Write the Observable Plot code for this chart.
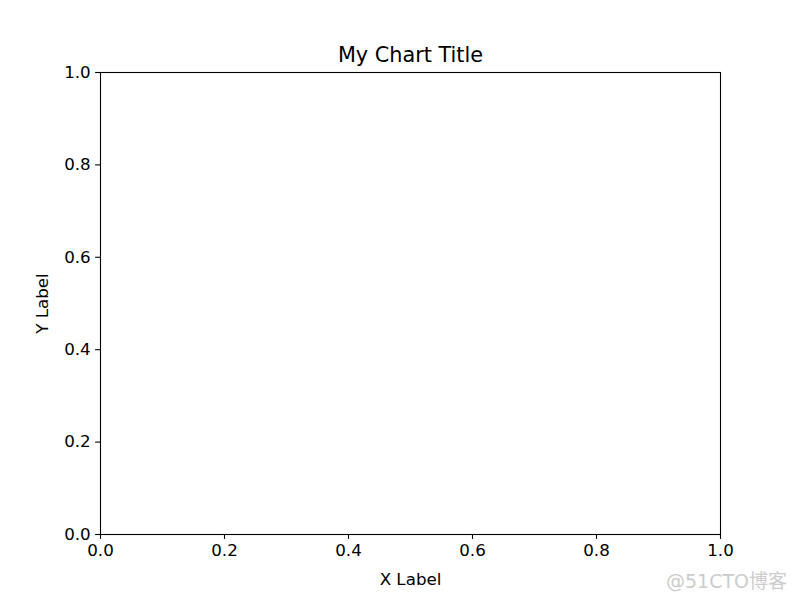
<!DOCTYPE html>
<html>
<head>
<meta charset="utf-8">
<script src="https://cdn.jsdelivr.net/npm/d3@7"></script>
<script src="https://cdn.jsdelivr.net/npm/@observablehq/plot@0.6"></script>
<style>
  html, body { margin: 0; padding: 0; background: white; }
  svg { display: block; }
</style>
</head>
<body>
<div id="chart"></div>
<script>
const xTicks = [0, 0.2, 0.4, 0.6, 0.8, 1.0];
const yTicks = [0, 0.2, 0.4, 0.6, 0.8, 1.0];
const titleText = ["My Chart Title"];
const xLabelText = ["X Label"];
const yLabelText = ["Y Label"];
const watermark = ["@51CTO博客"];

const chart = Plot.plot({
  width: 800,
  height: 600,
  marginLeft: 100,
  marginRight: 80,
  marginTop: 72,
  marginBottom: 66,
  style: { fontFamily: "DejaVu Sans", fontSize: "16.7px", color: "black", background: "white" },
  x: { domain: [0, 1] },
  y: { domain: [0, 1] },
  marks: [
    Plot.frame({ stroke: "black", strokeWidth: 1.1 }),
    Plot.axisX({ ticks: xTicks, tickFormat: d3.format(".1f"), tickSize: 4.9, tickPadding: 4.9, label: null, stroke: "black", strokeWidth: 1.1, fontSize: 16.7 }),
    Plot.axisY({ ticks: yTicks, tickFormat: d3.format(".1f"), tickSize: 4.9, tickPadding: 4.9, label: null, stroke: "black", strokeWidth: 1.1, fontSize: 16.7 }),
    Plot.text(titleText, { text: d => d, frameAnchor: "top", dy: -17, lineAnchor: "middle", fontSize: 20.8, fill: "black" }),
    Plot.text(xLabelText, { text: d => d, frameAnchor: "bottom", dy: 45, lineAnchor: "middle", fontSize: 16.7, fill: "black" }),
    Plot.text(yLabelText, { text: d => d, frameAnchor: "left", dx: -58, rotate: -90, textAnchor: "middle", lineAnchor: "middle", fontSize: 16.7, fill: "black" }),
    Plot.text(watermark, { text: d => d, frameAnchor: "bottom-right", dx: 6, dy: 47, textAnchor: "middle", lineAnchor: "middle", fontSize: 19, fill: "#cccccc", fontFamily: "DejaVu Sans, Noto Sans CJK SC" })
  ]
});
document.getElementById("chart").appendChild(chart);
</script>
</body>
</html>
